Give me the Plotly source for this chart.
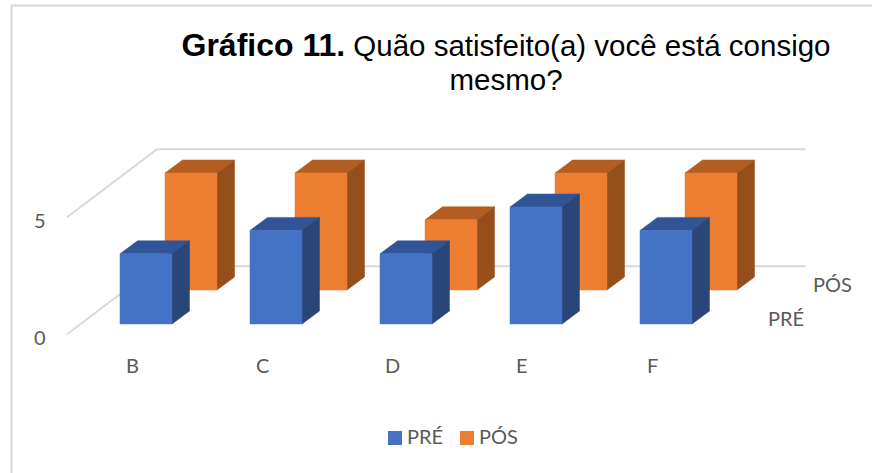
"""Gráfico 11: colunas 3D (PRÉ / PÓS) desenhadas em projeção oblíqua."""

import plotly.graph_objects as go

categories = ["B", "C", "D", "E", "F"]
pre_vals = [3, 4, 3, 5, 4]
pos_vals = [5, 5, 3, 5, 5]
y_ticks = [0, 5]
series_names = ["PRÉ", "PÓS"]

W, H = 872, 473
# projeção: (categoria, profundidade, valor) -> pixels
X0, Y0 = 120, 324
CAT_STEP = 130
UNIT = 23.4
DEPTH_DX, DEPTH_DY = 45, -34
BAR_W = 52
BAR_DX, BAR_DY = 17.5, -13


def project(cat, depth, value):
    return X0 + cat * CAT_STEP + depth * DEPTH_DX, Y0 - value * UNIT + depth * DEPTH_DY


def face(points, color):
    xs = [p[0] for p in points] + [points[0][0]]
    ys = [p[1] for p in points] + [points[0][1]]
    return go.Scatter(
        x=xs, y=ys, mode="lines", fill="toself", fillcolor=color,
        line=dict(color=color, width=0.5), hoverinfo="skip", showlegend=False,
    )


def bar_traces(cat, depth, value, front, top, side):
    x, y = project(cat, depth, value)
    _, y_base = project(cat, depth, 0)
    r = x + BAR_W
    return [
        face([(x, y), (r, y), (r + BAR_DX, y + BAR_DY), (x + BAR_DX, y + BAR_DY)], top),
        face([(r, y), (r + BAR_DX, y + BAR_DY), (r + BAR_DX, y_base + BAR_DY), (r, y_base)], side),
        face([(x, y), (r, y), (r, y_base), (x, y_base)], front),
    ]


fig = go.Figure()

# grade: linhas do piso e da parede do fundo
GRID = "#D9D9D9"
for tick in y_ticks:
    _, y_front = project(0, -0.3, tick)
    left = 67
    back_x = left + 90
    y_back = y_front - 68
    fig.add_trace(go.Scatter(
        x=[left, back_x, 806], y=[y_front, y_back, y_back], mode="lines",
        line=dict(color=GRID, width=2), hoverinfo="skip", showlegend=False,
    ))

for i, v in enumerate(pos_vals):
    for t in bar_traces(i, 1, v, "#ED7D31", "#B35E20", "#954F1B"):
        fig.add_trace(t)
for i, v in enumerate(pre_vals):
    for t in bar_traces(i, 0, v, "#4472C4", "#305496", "#2A4679"):
        fig.add_trace(t)

TEXT = "#595959"
LABEL_FONT = dict(family="Lato, Carlito, sans-serif", size=20, color=TEXT)

# legenda montada à mão: o espaçamento nativo não fica tão justo quanto no original
fig.add_trace(go.Scatter(
    x=[395, 467], y=[438, 438], mode="markers",
    marker=dict(symbol="square", size=14, color=["#4472C4", "#ED7D31"]),
    hoverinfo="skip", showlegend=False,
))
fig.add_trace(go.Scatter(
    x=[407, 479], y=[438.5, 438.5], mode="text", text=series_names,
    textposition="middle right", textfont=LABEL_FONT,
    hoverinfo="skip", showlegend=False,
))

annotations = []
for i, c in enumerate(categories):
    annotations.append(dict(x=X0 + 12 + i * CAT_STEP, y=365, text=c))
for t in y_ticks:
    annotations.append(dict(x=40, y=project(0, 0, t)[1] + 12.5, text=str(t)))
annotations.append(dict(x=786, y=318, text="PRÉ"))
annotations.append(dict(x=832, y=284, text="PÓS"))
for a in annotations:
    a.update(xref="x", yref="y", showarrow=False, font=LABEL_FONT)

# tamanho base menor só para apertar a entrelinha do título
title_text = (
    '<span style="font-size:32px"><b>Gráfico 11.</b></span>'
    '<span style="font-size:29.5px"> Quão satisfeito(a) você está consigo</span><br>'
    '<span style="font-size:29.5px">mesmo?</span>'
)
fig.update_layout(
    width=W, height=H,
    margin=dict(l=0, r=0, t=0, b=0),
    paper_bgcolor="white", plot_bgcolor="white",
    title=dict(
        text=title_text,
        font=dict(family="Liberation Sans, Arial, sans-serif", size=26, color="#000000"),
        x=506 / W, xanchor="center", y=0.881, yanchor="top",
    ),
    annotations=annotations,
    showlegend=False,
    shapes=[dict(
        type="rect", xref="x", yref="y", x0=11.5, y0=5.5, x1=W + 5, y1=H + 5,
        line=dict(color="#D9D9D9", width=2), layer="below",
    )],
)
fig.update_xaxes(range=[0, W], visible=False, fixedrange=True)
fig.update_yaxes(range=[H, 0], visible=False, fixedrange=True)

fig.write_html(
    "out.html",
    config=dict(displayModeBar=False),
    post_script="document.body.style.margin='0';document.documentElement.style.overflow='hidden';",
)
